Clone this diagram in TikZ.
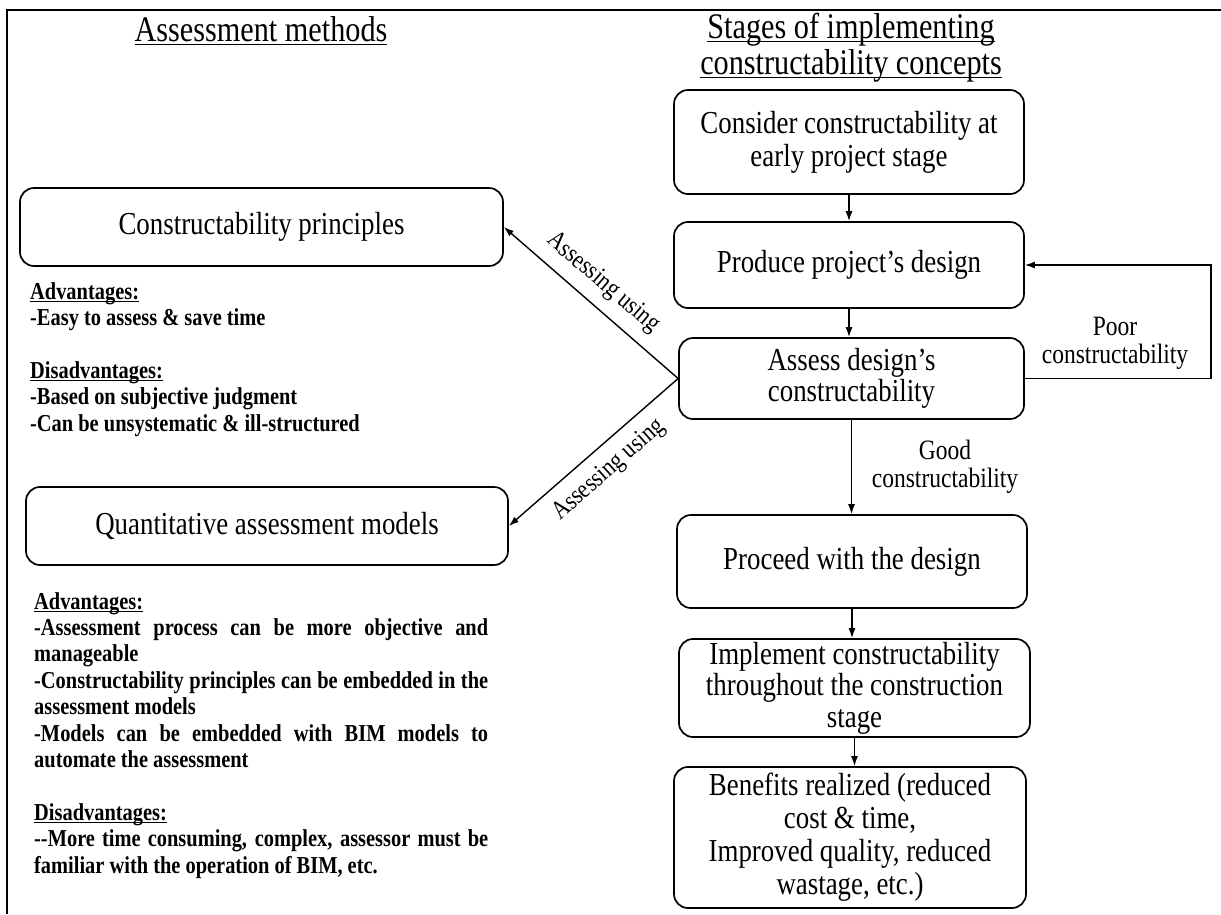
\documentclass[tikz,border=0pt]{standalone}
\usepackage{fontspec}
\setmainfont{Liberation Serif}[FakeStretch=0.84]
\usetikzlibrary{arrows.meta,calc}
\newcommand\myul[2][3pt]{\setbox0\hbox{#2}\rlap{\rule[-#1]{\wd0}{1.3pt}}\box0}
\begin{document}
\begin{tikzpicture}[x=1pt,y=-1pt,
  box/.style={draw, line width=1.7pt, rounded corners=14pt, align=center,
    font=\fontsize{32}{33}\selectfont, inner sep=1pt},
  arr/.style={-{Latex[length=10pt,width=7pt]}, line width=1.4pt},
  ttl/.style={font=\fontsize{36}{36}\selectfont, align=center, inner sep=0pt},
  lbl/.style={font=\fontsize{28}{28}\selectfont, align=center, inner sep=0pt},
  asl/.style={font=\fontsize{26}{26}\selectfont, inner sep=0pt},
  blk/.style={font=\bfseries\fontsize{24.3}{26.4}\selectfont, text width=454pt,
    align=justify, inner sep=0pt, anchor=north west}]
\useasboundingbox (0,0) rectangle (1221,914);
\fill[white] (0,0) rectangle (1221,914);
% frame (left and top edges)
\draw[line width=2pt] (7,914) -- (7,10) -- (1221,10);
% titles
\node[ttl] (t1) at (261,31) {\myul[3.5pt]{Assessment methods}};
\node[ttl] (t2) at (851,48) {\myul[3.5pt]{Stages of implementing}\\\myul[3.5pt]{constructability concepts}};
% right column
\node[box, minimum width=350pt, minimum height=104pt] (b1) at (849,142) {Consider constructability at\\early project stage};
\node[box, minimum width=350pt, minimum height=86pt] (b2) at (849,265) {Produce project’s design};
\node[box, minimum width=345pt, minimum height=81pt, font=\fontsize{32}{31}\selectfont] (b3) at (851.5,378.5) {Assess design’s\\constructability};
\node[box, minimum width=350pt, minimum height=93pt] (b4) at (852,561.5) {Proceed with the design};
\node[box, minimum width=351pt, minimum height=98pt, font=\fontsize{32}{31.5}\selectfont, inner sep=0pt] (b5) at (854.5,688) {Implement constructability\\throughout the construction\\stage};
\node[box, minimum width=352pt, minimum height=141pt] (b6) at (850,837.5) {Benefits realized (reduced\\cost \& time,\\Improved quality, reduced\\wastage, etc.)};
% left column
\node[box, minimum width=483pt, minimum height=78pt] (cp) at (261.5,227) {Constructability principles};
\node[box, minimum width=482pt, minimum height=78pt] (qam) at (267,526) {Quantitative assessment models};
% text blocks
\node[blk] (adv1) at (30,282) {\myul{Advantages:}\\
-Easy to assess \& save time\\[26.4pt]
\myul{Disadvantages:}\\
-Based on subjective judgment\\
-Can be unsystematic \& ill-structured};
\node[blk] (adv2) at (34,592) {\myul{Advantages:}\\
-Assessment process can be more objective and\linebreak manageable\\
-Constructability principles can be embedded in the\linebreak assessment models\\
-Models can be embedded with BIM models to\linebreak automate the assessment\\[26.4pt]
\myul{Disadvantages:}\\
-{}-More time consuming, complex, assessor must be\linebreak familiar with the operation of BIM, etc.};
% connectors
\draw[arr] (b1.south) -- (b1.south |- b2.north);
\draw[arr] (b2.south) -- (b2.south |- b3.north);
\draw[arr] (b3.south) -- (b3.south |- b4.north);
\draw[arr] (b4.south) -- (b4.south |- b5.north);
\draw[arr] (b5.south) -- (b5.south |- b6.north);
\draw[arr] (b3.east) -- ++(186,0) coordinate (loopc) |- (b2.east);
\draw[arr] (b3.west) -- (cp.east);
\draw[arr] (b3.west) -- (qam.east);
% labels
\node[lbl] (good) at (945,467) {Good\\constructability};
\node[lbl] (poor) at (1115,343) {Poor\\constructability};
\node[asl, rotate=-40.6] (as1) at (603,283) {Assessing using};
\node[asl, rotate=41.4] (as2) at (609,470) {Assessing using};
\end{tikzpicture}
\end{document}
